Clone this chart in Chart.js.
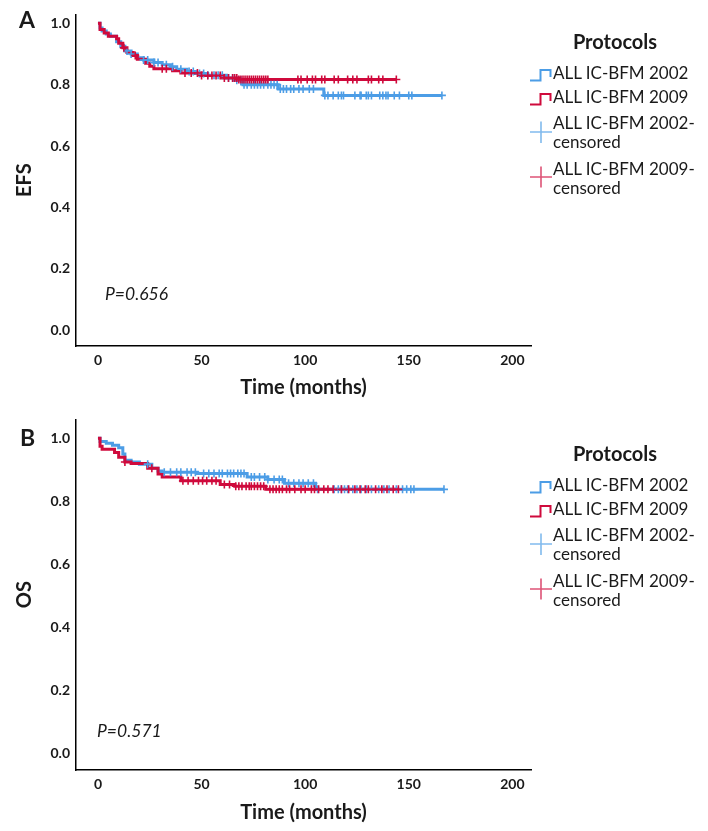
<!DOCTYPE html>
<html lang="en">
<head>
<meta charset="UTF-8">
<title>EFS and OS by protocol</title>
<script src="https://cdn.jsdelivr.net/npm/chart.js"></script>
<style>
    body { margin: 0; background: #fff; }
    #wrap { position: relative; width: 708px; height: 831px; font-family: Lato, sans-serif; color: #1a1a1a; }
    canvas { position: absolute; left: 0; }
    .txt { position: absolute; white-space: nowrap; line-height: 1.2; }
    svg { position: absolute; left: 0; top: 0; }
</style>
</head>
<body>
<div id="wrap">
    <canvas id="chartA" width="708" height="405" style="top:0"></canvas>
    <canvas id="chartB" width="708" height="426" style="top:405px"></canvas>
    <svg id="icons" width="708" height="831"></svg>
</div>
<script>
const timeTicks = [0, 50, 100, 150, 200];
const survTicks = [0, 0.2, 0.4, 0.6, 0.8, 1.0];
const legendTitle = 'Protocols';
const legendLabels = ['ALL IC-BFM 2002', 'ALL IC-BFM 2009', 'ALL IC-BFM 2002-', 'ALL IC-BFM 2009-'];

// panel A - EFS (step starts: time in months, survival)
const efs2002Time = [0, 1, 2, 4, 6, 9, 11, 13, 16, 19, 22, 27, 31, 35, 38, 43, 47, 53, 62, 66, 70, 87, 109, 166];
const efs2002Surv = [1, 0.985, 0.975, 0.965, 0.958, 0.94, 0.925, 0.91, 0.9, 0.888, 0.88, 0.872, 0.865, 0.858, 0.85, 0.843, 0.836, 0.831, 0.822, 0.814, 0.80, 0.786, 0.765, 0.765];
const efs2009Time = [0, 1, 3, 5, 9, 10, 12, 14, 17, 19, 23, 25, 27, 36, 40, 50, 60, 68, 144];
const efs2009Surv = [1, 0.98, 0.968, 0.958, 0.95, 0.935, 0.92, 0.905, 0.895, 0.883, 0.87, 0.86, 0.852, 0.845, 0.838, 0.83, 0.822, 0.817, 0.817];
const efs2002Cens = [14, 16, 22, 24, 27, 29, 33, 36, 40, 44, 46, 49, 51, 53, 56, 58, 60, 63, 65, 67, 69, 70.5, 72, 74, 75.5, 77, 78.5, 80, 82, 83.5, 85, 86.5, 88, 89.5, 91, 93, 94.5, 97, 99, 102, 104, 109.5, 111, 113.5, 116, 117.5, 118.5, 124, 126.5, 127, 129.5, 130.5, 132, 136, 137.5, 139, 140, 143, 145.5, 150, 151.5, 166];
const efs2009Cens = [12.5, 18, 31, 33, 42, 45, 48, 50, 53, 55, 57, 59, 61, 63, 65, 66, 67, 68, 69, 70, 71, 72, 73, 74, 75, 76, 77, 78, 79, 80, 81, 82, 96.5, 98, 101, 103.5, 105, 108, 109.5, 114, 116, 120.5, 123, 125, 130.5, 132, 135.5, 137.5, 144];

// panel B - OS
const os2002Time = [0, 1, 4, 7, 10, 12, 13, 16, 20, 26, 29, 31, 48, 72, 82, 90, 105, 167];
const os2002Surv = [1, 0.99, 0.984, 0.978, 0.97, 0.95, 0.93, 0.925, 0.918, 0.905, 0.896, 0.892, 0.888, 0.877, 0.869, 0.857, 0.838, 0.838];
const os2009Time = [0, 1, 2, 8, 10, 13, 16, 24, 29, 31, 40, 59, 66, 81, 145];
const os2009Surv = [1, 0.975, 0.965, 0.955, 0.94, 0.925, 0.92, 0.905, 0.887, 0.877, 0.865, 0.853, 0.848, 0.838, 0.838];
const os2002Cens = [24, 32, 35, 38, 40, 43, 45, 47, 51, 53.5, 56, 58.5, 60, 62.5, 64, 65.5, 67.5, 69, 70.5, 74, 75.5, 78, 80.5, 82, 85, 87.5, 89, 92, 94.5, 97, 99, 101.5, 104, 106, 114, 116, 117.5, 119, 120.5, 123, 125, 127, 129.5, 132, 135.5, 138, 140.5, 144, 147, 149, 151, 152.5, 167];
const os2009Cens = [13, 26, 41, 43.5, 46, 48.5, 50.5, 52.5, 55, 57, 61, 63.5, 66.5, 68, 69.5, 71.5, 73, 74, 75.5, 77, 78.5, 80, 83, 84.5, 86, 87.5, 89, 91, 92.5, 95, 98, 100, 103, 104.5, 106.5, 109, 111, 113.5, 117.5, 121, 124, 126.5, 129, 130.5, 134, 137, 139.5, 142.5, 145];

const blue = '#4c9de6';
const red = '#cf0a3c';
const ink = '#1a1a1a';

Chart.defaults.font.family = 'Lato';

function survAt(times, surv, t) {
    let v = surv[0];
    for (let i = 0; i < times.length; i++) {
        if (times[i] <= t) v = surv[i];
    }
    return v;
}

function stepPoints(times, surv) {
    return times.map((t, i) => ({ x: t, y: surv[i] }));
}

function censorPoints(times, surv, cens) {
    return cens.map(t => ({ x: t, y: survAt(times, surv, t) }));
}

function drawPanel(id, p) {
    const censStyle = c => ({ showLine: false, pointStyle: 'cross', pointRadius: 4, pointBorderWidth: 1.6, pointBorderColor: c, borderColor: c });
    new Chart(document.getElementById(id), {
        type: 'line',
        data: {
            datasets: [
                Object.assign({ data: censorPoints(p.t09, p.s09, p.c09) }, censStyle(red)),
                Object.assign({ data: censorPoints(p.t02, p.s02, p.c02) }, censStyle(blue)),
                { data: stepPoints(p.t09, p.s09), stepped: true, borderColor: red, borderWidth: 3, pointRadius: 0, fill: false },
                { data: stepPoints(p.t02, p.s02), stepped: true, borderColor: blue, borderWidth: 3, pointRadius: 0, fill: false }
            ]
        },
        options: {
            responsive: false,
            animation: false,
            events: [],
            layout: { padding: { top: p.padTop, right: 177, left: 0, bottom: 0 } },
            plugins: { legend: { display: false }, tooltip: { enabled: false } },
            scales: {
                x: {
                    type: 'linear', min: -10.6, max: 209,
                    grid: { display: false, drawTicks: false },
                    border: { display: true, color: '#000', width: 1.5 },
                    ticks: { font: { weight: 'bold', size: 14 }, color: ink, padding: 6, maxRotation: 0, autoSkip: false, callback: v => String(v) },
                    afterBuildTicks: s => { s.ticks = timeTicks.map(v => ({ value: v })); },
                    afterFit: s => { s.height = p.xAxisH; },
                    title: { display: true, text: 'Time (months)', color: ink, font: { weight: 'bold', size: 20 }, padding: { top: 0, bottom: p.xTitlePad } }
                },
                y: {
                    min: p.yMin, max: p.yMax,
                    grid: { display: false, drawTicks: false },
                    border: { display: true, color: '#000', width: 1.5 },
                    ticks: { font: { weight: 'bold', size: 14 }, color: ink, padding: 6, callback: v => v.toFixed(1) },
                    afterBuildTicks: s => { s.ticks = survTicks.map(v => ({ value: v })); },
                    afterFit: s => { s.width = 76; },
                    title: { display: true, text: p.yTitle, color: ink, font: { weight: 'bold', size: 20 }, padding: { top: 13, bottom: 0 } }
                }
            }
        }
    });
}

drawPanel('chartA', {
    t02: efs2002Time, s02: efs2002Surv, c02: efs2002Cens,
    t09: efs2009Time, s09: efs2009Surv, c09: efs2009Cens,
    yTitle: 'EFS', yMin: -0.052, yMax: 1.029, padTop: 14, xAxisH: 59, xTitlePad: 5
});
drawPanel('chartB', {
    t02: os2002Time, s02: os2002Surv, c02: os2002Cens,
    t09: os2009Time, s09: os2009Surv, c09: os2009Cens,
    yTitle: 'OS', yMin: -0.053, yMax: 1.06, padTop: 11, xAxisH: 61, xTitlePad: 6
});

// html text, placed by baseline
const wrap = document.getElementById('wrap');
function addText(text, x, baseline, size, weight, style, center) {
    const d = document.createElement('div');
    d.className = 'txt';
    d.textContent = text;
    d.style.fontSize = size + 'px';
    d.style.fontWeight = weight;
    d.style.fontStyle = style;
    d.style.left = x + 'px';
    d.style.top = (baseline - size * 0.987) + 'px';
    if (center) d.style.transform = 'translateX(-50%)';
    wrap.appendChild(d);
}

const svg = document.getElementById('icons');
function addPath(dPath, color, width, opacity) {
    const el = document.createElementNS('http://www.w3.org/2000/svg', 'path');
    el.setAttribute('d', dPath);
    el.setAttribute('fill', 'none');
    el.setAttribute('stroke', color);
    el.setAttribute('stroke-width', width);
    el.setAttribute('stroke-opacity', opacity);
    svg.appendChild(el);
}

function legend(dy) {
    addText(legendTitle, 615, 49 + dy, 20, 'bold', 'normal', true);
    addText(legendLabels[0], 553, 80 + dy, 17, 'normal', 'normal');
    addText(legendLabels[1], 553, 104 + dy, 17, 'normal', 'normal');
    addText(legendLabels[2], 553, 130 + dy, 17, 'normal', 'normal');
    addText('censored', 553, 149 + dy, 17, 'normal', 'normal');
    addText(legendLabels[3], 553, 176 + dy, 17, 'normal', 'normal');
    addText('censored', 553, 195 + dy, 17, 'normal', 'normal');
    addPath(`M530 ${80.5 + dy} H540.5 V${70 + dy} H550.5 V${77 + dy}`, blue, 2, 1);
    addPath(`M530 ${104.5 + dy} H540.5 V${94 + dy} H550.5 V${101 + dy}`, red, 2, 1);
    addPath(`M530 ${132 + dy} H552 M541 ${121.5 + dy} V${143 + dy}`, blue, 1.6, 0.7);
    addPath(`M530 ${177 + dy} H552 M541 ${166.5 + dy} V${187.5 + dy}`, red, 1.6, 0.7);
}

addText('A', 19, 28.5, 23, 'bold', 'normal');
addText('B', 20, 447, 23, 'bold', 'normal');
addText('P=0.656', 105, 300, 17.5, 'normal', 'italic');
addText('P=0.571', 97, 737, 17.5, 'normal', 'italic');
legend(0);
legend(412);
</script>
</body>
</html>
